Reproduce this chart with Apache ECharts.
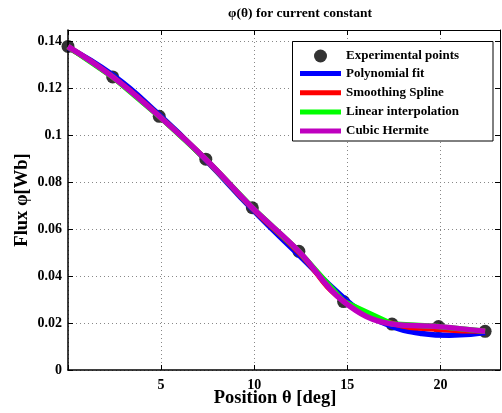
<!DOCTYPE html>
<html>
<head>
<meta charset="utf-8">
<script src="https://cdn.jsdelivr.net/npm/echarts@6/dist/echarts.min.js"></script>
<style>html,body{margin:0;padding:0;background:#fff}#c{width:502px;height:413px}</style>
</head>
<body>
<div id="c"></div>
<script>
// Experimental points
var thetaPts = [0, 2.4, 4.9, 7.4, 9.9, 12.4, 14.8, 17.4, 19.9, 22.4];
var fluxPts  = [0.1380, 0.1250, 0.1082, 0.0899, 0.0692, 0.0506, 0.0292, 0.0196, 0.0185, 0.0165];
// Polynomial fit
var thetaPoly = [0, 2.4, 4.9, 7.4, 9.9, 12.4, 14.8, 16.0, 17.4, 19.0, 20.5, 22.4];
var fluxPoly  = [0.1375, 0.1258, 0.1088, 0.0895, 0.0685, 0.0490, 0.0308, 0.0240, 0.0186, 0.0156, 0.0148, 0.0160];
// Smoothing spline
var fluxSpline = [0.1378, 0.1250, 0.1082, 0.0898, 0.0690, 0.0502, 0.0295, 0.0199, 0.0174, 0.0166];
// Cubic Hermite
var fluxHermite = [0.1380, 0.1250, 0.1082, 0.0899, 0.0692, 0.0506, 0.0292, 0.0196, 0.0185, 0.0165];

var xTicks = [5, 10, 15, 20];
var yTicks = [0, 0.02, 0.04, 0.06, 0.08, 0.1, 0.12, 0.14];

function pairs(xs, ys) { return xs.map(function (x, i) { return [x, ys[i]]; }); }

var FONT = 'Liberation Serif';
var chart = echarts.init(document.getElementById('c'), null, {renderer: 'canvas'});

var gridLine = {show: true, lineStyle: {color: '#888', type: [1, 3], width: 1}};
var xFmt = function (v) { return xTicks.indexOf(Math.round(v * 1000) / 1000) >= 0 ? String(v) : ''; };
var yFmt = function (v) {
  var r = Math.round(v * 1000) / 1000;
  return yTicks.indexOf(r) >= 0 ? String(r) : '';
};

chart.setOption({
  animation: false,
  backgroundColor: '#fff',
  title: {
    text: 'φ(θ) for current constant',
    left: 295, top: 2, textAlign: 'center',
    textStyle: {fontFamily: FONT, fontWeight: 'bold', fontSize: 13.5, color: '#000'}
  },
  grid: {left: 68, right: 2, top: 30, bottom: 43, show: false, containLabel: false, outerBoundsMode: 'none'},
  xAxis: [{
    type: 'value', min: 0, max: 23.2, interval: 5,
    name: 'Position θ [deg]', nameLocation: 'middle', nameGap: 19, nameMoveOverlap: false,
    nameTextStyle: {fontFamily: FONT, fontWeight: 'bold', fontSize: 18.5, color: '#000', padding: [0, 18, 0, 0]},
    axisLine: {show: true, onZero: false, lineStyle: {color: '#000', width: 1.5}},
    axisTick: {show: true, inside: true, length: 5, lineStyle: {color: '#000'}},
    axisLabel: {formatter: xFmt, fontFamily: FONT, fontWeight: 'bold', fontSize: 14, color: '#000', margin: 8},
    splitLine: gridLine
  }, {
    type: 'value', min: 0, max: 23.2, interval: 5, position: 'top',
    axisLine: {show: true, onZero: false, lineStyle: {color: '#000', width: 1}},
    axisTick: {show: true, inside: true, length: 5, lineStyle: {color: '#000'}},
    axisLabel: {show: false}, splitLine: {show: false}
  }],
  yAxis: [{
    type: 'value', min: 0, max: 0.145, interval: 0.02,
    name: 'Flux φ[Wb]', nameLocation: 'middle', nameGap: 36, nameRotate: 90, nameMoveOverlap: false,
    nameTextStyle: {fontFamily: FONT, fontWeight: 'bold', fontSize: 18.5, color: '#000'},
    axisLine: {show: true, onZero: false, lineStyle: {color: '#000', width: 1.5}},
    axisTick: {show: true, inside: true, length: 5, lineStyle: {color: '#000'}},
    axisLabel: {formatter: yFmt, fontFamily: FONT, fontWeight: 'bold', fontSize: 14, color: '#000', margin: 6},
    splitLine: gridLine
  }, {
    type: 'value', min: 0, max: 0.145, interval: 0.02, position: 'right',
    axisLine: {show: true, onZero: false, lineStyle: {color: '#000', width: 1}},
    axisTick: {show: true, inside: true, length: 5, lineStyle: {color: '#000'}},
    axisLabel: {show: false}, splitLine: {show: false}
  }],
  graphic: [{
    type: 'rect', z: 50,
    shape: {x: 292.5, y: 41.5, width: 200.5, height: 99.5},
    style: {fill: '#fff', stroke: '#000', lineWidth: 1}
  }],
  legend: [{
    z: 60, left: 309, top: 44.5, orient: 'vertical', padding: 5,
    itemWidth: 41, itemHeight: 13, itemGap: 0,
    textStyle: {fontFamily: FONT, fontWeight: 'bold', fontSize: 13, color: '#000'},
    data: [{name: 'Experimental points', icon: 'circle'}]
  }, {
    z: 60, left: 295, top: 61.5, orient: 'vertical', padding: 5,
    itemWidth: 41, itemHeight: 5, itemGap: 5.2,
    textStyle: {fontFamily: FONT, fontWeight: 'bold', fontSize: 13, lineHeight: 14, color: '#000'},
    data: [
      {name: 'Polynomial fit', icon: 'rect'},
      {name: 'Smoothing Spline', icon: 'rect'},
      {name: 'Linear interpolation', icon: 'rect'},
      {name: 'Cubic Hermite', icon: 'rect'}
    ]
  }],
  series: [{
    name: 'Experimental points', type: 'scatter', z: 1,
    symbolSize: 13, itemStyle: {color: '#000'},
    data: pairs(thetaPts, fluxPts)
  }, {
    name: 'Polynomial fit', type: 'line', z: 2, showSymbol: false, smooth: 0.5,
    lineStyle: {color: '#0000ff', width: 5.5}, itemStyle: {color: '#0000ff'},
    data: pairs(thetaPoly, fluxPoly)
  }, {
    name: 'Smoothing Spline', type: 'line', z: 3, showSymbol: false, smooth: 0.5,
    lineStyle: {color: '#ff0000', width: 5.5}, itemStyle: {color: '#ff0000'},
    data: pairs(thetaPts, fluxSpline)
  }, {
    name: 'Linear interpolation', type: 'line', z: 4, showSymbol: false, smooth: false,
    lineStyle: {color: '#00ff00', width: 5.5}, itemStyle: {color: '#00ff00'},
    data: pairs(thetaPts, fluxPts)
  }, {
    name: 'Cubic Hermite', type: 'line', z: 5, showSymbol: false, smooth: 0.4,
    lineStyle: {color: '#bf00bf', width: 5.5}, itemStyle: {color: '#bf00bf'},
    data: pairs(thetaPts, fluxHermite)
  }]
});
</script>
</body>
</html>
